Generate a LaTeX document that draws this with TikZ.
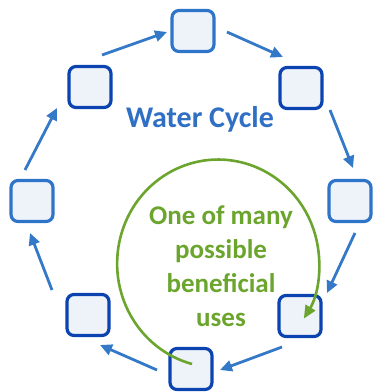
\documentclass[tikz,border=0pt]{standalone}
\usepackage{fontspec}
\setmainfont{Carlito}
\usetikzlibrary{arrows.meta}
\definecolor{boxfill}{HTML}{EEF2F9}
\definecolor{lightblue}{HTML}{2E75C9}
\definecolor{darkblue}{HTML}{0B44B0}
\definecolor{arrblue}{HTML}{3478C8}
\definecolor{titleblue}{HTML}{2F6FC4}
\definecolor{usegreen}{HTML}{6BA52E}
\tikzset{
  stagebox/.style={draw=lightblue, fill=boxfill, line width=3.2pt, rounded corners=7pt, minimum width=42pt, minimum height=41pt, inner sep=0pt},
  darkbox/.style={stagebox, draw=darkblue},
  cyclearrow/.style={draw=arrblue, line width=2.8pt, -{Triangle[length=12pt,width=11pt]}},
  usearrow/.style={draw=usegreen, line width=2.6pt, -{Triangle[length=13pt,width=11pt]}},
}
\begin{document}
\begin{tikzpicture}[x=1pt,y=-1pt]
\useasboundingbox (0,0) rectangle (374,392);
\node[stagebox] (top) at (193,31) {};
\node[darkbox] (tr) at (301,88) {};
\node[stagebox] (right) at (350,201) {};
\node[darkbox] (lr) at (300,316) {};
\node[darkbox] (bottom) at (191,369) {};
\node[darkbox] (ll) at (88,315) {};
\node[stagebox] (left) at (32,201) {};
\node[darkbox] (ul) at (90,87) {};
\node[font=\bfseries\fontsize{30}{36}\selectfont, text=titleblue] (title) at (200,119) {Water Cycle};
\node[font=\bfseries\fontsize{27}{34}\selectfont, text=usegreen, align=center] (uses) at (221,266) {One of many\\possible\\beneficial\\uses};
\draw[cyclearrow] ([shift={(-7,-31)}]left.center) -- ([shift={(-33,21)}]ul.center);
\draw[cyclearrow] ([shift={(12,-32)}]ul.center) -- ([shift={(-26,1)}]top.center);
\draw[cyclearrow] ([shift={(34,1)}]top.center) -- ([shift={(-18,-31)}]tr.center);
\draw[cyclearrow] ([shift={(29,22)}]tr.center) -- ([shift={(3,-33)}]right.center);
\draw[cyclearrow] ([shift={(5,32)}]right.center) -- ([shift={(27,-23)}]lr.center);
\draw[cyclearrow] ([shift={(-18,31)}]lr.center) -- ([shift={(29,1)}]bottom.center);
\draw[cyclearrow] ([shift={(-34,1)}]bottom.center) -- ([shift={(12,30)}]ll.center);
\draw[cyclearrow] ([shift={(-36,-25)}]ll.center) -- ([shift={(-2,32)}]left.center);
\draw[usearrow] ([shift={(1,-5)}]bottom.center) arc[start angle=105, end angle=392, x radius=101, y radius=104];
\end{tikzpicture}
\end{document}
